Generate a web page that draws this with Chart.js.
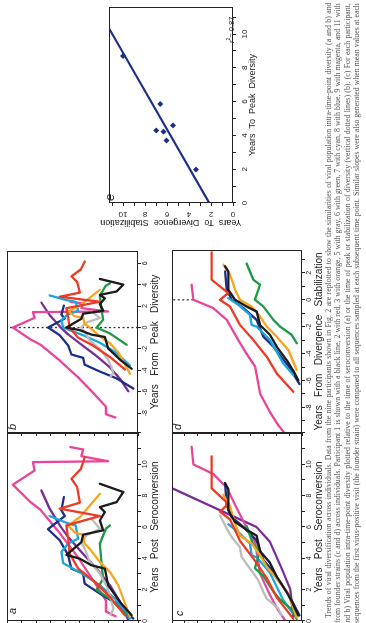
<!DOCTYPE html>
<html lang="en">
<head>
<meta charset="utf-8" />
<title>Trends of viral diversification</title>
<script src="https://cdn.jsdelivr.net/npm/chart.js@4.4.0/dist/chart.umd.min.js"></script>
<style>
  html, body { margin: 0; padding: 0; background: #fff; overflow: hidden; }
  body { width: 366px; height: 623px; position: relative; }
  /* the figure is laid out in landscape and turned a quarter to the left */
  #page { position: absolute; left: 0; top: 0; width: 623px; height: 366px; overflow: hidden;
          transform-origin: 0 0; transform: translateY(623px) rotate(-90deg);
          font-family: "Liberation Sans", Arial, sans-serif; color: #222; }
  #page canvas { position: absolute; }
  .lab { position: absolute; font-style: italic; font-size: 11px; line-height: 12px; color: #222; }
  .cap { position: absolute; font-family: "Liberation Serif", "Times New Roman", serif; font-size: 10px;
         line-height: 9px; color: #555; white-space: nowrap; }
</style>
</head>
<body>
<div id="page"></div>
<script>
// participants, in the order of the caption
const names = ['1', '2', '3', '5', '6', '7', '8', '9', '11'];
const lineColors = ['#1b1b1b', '#ec3a26', '#f7a51d', '#bdbdbd', '#1e9a47', '#1aa7df', '#1f2f86', '#e8459b', '#7b2d96'];

// a: diversity vs years post seroconversion  [years, diversity]
const divBlack   = [[0.37,0.44],[1.22,1.24],[2.28,2.05],[3.34,2.28],[3.56,3.2],[3.98,4.0],[4.22,4.92],[5.04,3.89],[5.51,3.77],[5.79,2.39],[6.42,2.62],[6.95,2.28],[7.27,2.62],[7.59,1.47],[8.23,1.01],[8.76,2.62]];
const divRed     = [[0.37,0.9],[1.54,1.93],[2.6,3.08],[3.34,4.11],[4.29,4.69],[5.25,4.8],[6.1,4.92],[6.7,2.62],[7.17,5.38],[7.55,4.0],[8.55,4.18],[9.08,4.57],[9.71,3.93],[10.46,3.66]];
const divOrange  = [[0.27,0.55],[2.28,1.36],[3.13,1.93],[3.77,2.62],[4.59,3.31],[4.94,3.66],[5.51,3.77],[5.64,4.34],[6.1,4.8],[6.63,4.0],[8.12,2.62]];
const divGray    = [[0.4,1.9],[0.75,1.7],[1.4,1.85],[2.1,2.1],[3.03,2.62],[3.77,3.31],[4.62,3.66],[5.0,3.9],[5.47,3.54],[5.89,2.62],[6.53,3.2]];
const divGreen   = [[0.37,0.78],[1.43,1.93],[1.98,2.85],[2.71,2.39],[3.77,2.51],[4.94,2.62],[5.89,2.21],[6.1,1.93]];
const divCyan    = [[0.16,0.55],[1.43,1.59],[2.28,2.62],[2.92,3.66],[3.7,5.15],[4.41,5.26],[4.94,4.8],[5.26,4.11],[6.1,4.28],[6.27,4.92],[6.7,6.07]];
const divBlue    = [[0.16,0.32],[1.11,1.47],[1.75,2.62],[2.39,3.66],[3.03,3.77],[3.34,4.57],[4.19,4.8],[5.15,5.38],[5.86,6.18],[6.7,5.03],[7.06,5.26],[7.91,5.1]];
const divMagenta = [[0.3,1.55],[0.6,2.2],[1.3,2.2],[2.55,3.05],[4.1,4.15],[5.7,5.45],[7.1,6.7],[7.6,7.4],[8.7,8.6],[9.61,7.1],[10.14,7.22],[10.2,2.05],[10.52,3.89],[10.95,3.77],[11.1,4.64]];
const divPurple  = [[0.05,0.67],[1.22,1.24],[2.28,1.93],[3.34,2.85],[4.41,3.89],[5.36,4.8],[6.0,5.3],[7.17,6.07],[8.33,6.64]];

// c: divergence from founder vs years post seroconversion  [years, divergence]
const fndBlack   = [[0.35,0.28],[1.1,0.7],[1.84,1.18],[2.84,1.95],[3.71,2.46],[4.45,3.23],[5.45,3.49],[5.82,4.26],[6.32,5.15],[7.07,5.67],[8.43,5.67],[8.81,5.92]];
const fndRed     = [[0.14,0.67],[1.51,1.95],[2.75,2.72],[3.99,3.74],[5.11,4.77],[6.48,5.54],[6.98,6.31],[7.48,5.67],[8.47,6.95],[10.51,6.95]];
const fndOrange  = [[0.23,0.41],[1.72,1.05],[2.71,1.95],[3.46,2.72],[4.21,3.23],[4.95,3.87],[5.45,4.77],[6.2,5.15],[7.32,5.54],[8.06,6.05]];
const fndGray    = [[0.37,1.56],[0.8,1.82],[1.43,2.72],[1.86,2.97],[2.6,3.36],[3.34,4.0],[4.09,4.64],[4.72,4.77],[5.36,5.41],[5.89,5.79],[6.74,6.31]];
const fndGreen   = [[0.13,0.41],[0.75,0.79],[1.37,1.69],[1.87,2.2],[2.86,2.97],[3.36,3.62],[4.48,3.23],[4.85,3.74],[6.05,4.26]];
const fndCyan    = [[0.46,0.67],[1.33,1.44],[3.07,2.46],[4.07,3.49],[4.19,3.87],[4.94,4.0],[5.69,4.9],[6.18,5.67]];
const fndBlue    = [[0.36,0.2],[1.53,0.92],[3.15,2.2],[3.89,2.97],[5.14,3.49],[6.01,4.51],[6.63,5.41],[7.38,5.79],[8.74,5.92]];
const fndMagenta = [[0.05,1.31],[0.67,1.82],[1.65,2.46],[3.03,3.23],[5.02,3.6],[6.2,4.4],[7.01,4.9],[8.51,5.79],[9.38,6.82],[10.0,8.36],[11.12,8.49]];
const fndPurple  = [[0.27,0.67],[2.07,0.92],[3.34,1.56],[5.04,2.46],[6.0,3.5],[8.44,9.9]];

// years to peak diversity (b, e) and to divergence stabilization (d, e); null = not determined
const peakYears = [4.22, 4.29, 4.59, 5.0, 1.98, 3.7, 5.86, 8.7, 6.0];
const stabYears = [6.32, 6.98, 5.45, null, 3.36, 6.06, 6.63, 10.0, null];

// e: regression line end points and its r²
const fitYears = [0, 10.3];
const fitStab = [2.15, 11.25];
const rSquared = '0.87';

// dotted reference lines (y extent, in axis units)
const peakLineY = [0, 9];
const stabLineY = [8.36, 10];

// tick positions and labels
const ticksSero = [0,1,2,3,4,5,6,7,8,9,10,11,12];
const labelsSero = [0,2,4,6,8,10];
const ticksPeak = [-8,-6,-4,-2,0,2,4,6];
const labelsPeak = [-8,-6,-4,-2,0,2,4,6];
const ticksStab = [-9,-8,-7,-6,-5,-4,-3,-2,-1,0,1,2,3];
const labelsStab = [-8,-6,-4,-2,0,2];
const ticksDiv = [0,1,2,3,4,5,6,7,8,9];
const ticksFnd = [0,1,2,3,4,5,6,7,8,9,10];
const ticksE = [0,1,2,3,4,5,6,7,8,9,10,11];
const labelsE = [0,2,4,6,8,10];

const diversityLines = [divBlack, divRed, divOrange, divGray, divGreen, divCyan, divBlue, divMagenta, divPurple];
const founderLines = [fndBlack, fndRed, fndOrange, fndGray, fndGreen, fndCyan, fndBlue, fndMagenta, fndPurple];

const page = document.getElementById('page');
const INK = '#222';

Chart.defaults.font.family = '"Liberation Sans", Arial, sans-serif';
Chart.defaults.color = INK;

// box around each plotting area
const framePlugin = {
	id: 'frame',
	afterDraw(chart) {
		const {ctx, chartArea: a} = chart;
		ctx.save();
		ctx.strokeStyle = INK;
		ctx.lineWidth = 1;
		ctx.strokeRect(Math.round(a.left) + 0.5, Math.round(a.top) + 0.5, Math.round(a.right - a.left) - 1, Math.round(a.bottom - a.top) - 1);
		ctx.restore();
	}
};

function addCanvas(box, pad) {
	const c = document.createElement('canvas');
	const w = box.r - box.l + pad.l + pad.r;
	const h = box.b - box.t + pad.t + pad.b;
	c.width = w;
	c.height = h;
	c.style.left = (box.l - pad.l) + 'px';
	c.style.top = (box.t - pad.t) + 'px';
	c.style.width = w + 'px';
	c.style.height = h + 'px';
	page.appendChild(c);
	return c.getContext('2d');
}

function addText(cls, html, left, top) {
	const s = document.createElement('div');
	s.className = cls;
	s.innerHTML = html;
	s.style.left = left + 'px';
	s.style.top = top + 'px';
	page.appendChild(s);
	return s;
}

function lineSets(lines, shifts) {
	const sets = [];
	lines.forEach((pts, i) => {
		const s = shifts ? shifts[i] : 0;
		if (s === null) return;
		sets.push({
			data: pts.map(p => ({x: p[0] - s, y: p[1]})),
			borderColor: lineColors[i],
			borderWidth: 2.3,
			pointRadius: 0,
			fill: false,
			tension: 0,
			borderJoinStyle: 'round',
			borderCapStyle: 'round'
		});
	});
	return sets;
}

function dottedSet(yExt) {
	return {
		data: [{x: 0, y: yExt[0]}, {x: 0, y: yExt[1]}],
		borderColor: '#333',
		borderWidth: 1.3,
		borderDash: [2, 2.5],
		pointRadius: 0,
		fill: false
	};
}

function axis(o) {
	return {
		type: 'linear',
		position: o.position,
		min: o.min,
		max: o.max,
		afterBuildTicks: s => { s.ticks = o.ticks.map(v => ({value: v})); },
		afterFit: s => { if (o.position === 'bottom') s.height = o.size; else s.width = o.size; },
		grid: { display: true, drawOnChartArea: false, drawTicks: true, tickLength: 3, color: INK, lineWidth: 1 },
		border: { display: false },
		ticks: {
			display: !!o.labels,
			autoSkip: false,
			font: { size: o.tickFont || 7 },
			color: INK,
			padding: o.tickPad || 0,
			minRotation: o.rot || 0,
			maxRotation: o.rot || 0,
			crossAlign: o.rot ? 'center' : 'near',
			callback: v => (o.labels && o.labels.includes(v)) ? String(v) : ''
		},
		title: { display: !!o.title, text: o.title || '', font: { size: o.titleFont || 10 }, color: INK, padding: 0 }
	};
}

function panel(box, pad, datasets, xo, yo) {
	const ctx = addCanvas(box, pad);
	xo.position = 'bottom'; xo.size = pad.b;
	yo.position = 'left'; yo.size = pad.l;
	return new Chart(ctx, {
		type: 'line',
		data: { datasets },
		options: {
			responsive: false,
			animation: false,
			devicePixelRatio: 1,
			layout: { padding: { left: 0, top: pad.t, right: pad.r, bottom: 0 } },
			plugins: { legend: { display: false }, tooltip: { enabled: false } },
			scales: { x: axis(xo), y: axis(yo) }
		},
		plugins: [framePlugin]
	});
}

// a
panel({l: 2, t: 7, r: 190, b: 138}, {l: 10, t: 2, r: 2, b: 23},
	lineSets(diversityLines),
	{min: 0, max: 12, ticks: ticksSero, labels: labelsSero, title: 'Years   Post   Seroconversion'},
	{min: 0, max: 9, ticks: ticksDiv});

// b
panel({l: 190, t: 7, r: 372, b: 138}, {l: 6, t: 2, r: 2, b: 23},
	lineSets(diversityLines, peakYears).concat([dottedSet(peakLineY)]),
	{min: -9.85, max: 7.15, ticks: ticksPeak, labels: labelsPeak, title: 'Years   From   Peak   Diversity'},
	{min: 0, max: 9, ticks: ticksDiv});

// c
panel({l: 2, t: 172, r: 190, b: 302}, {l: 10, t: 2, r: 2, b: 23},
	lineSets(founderLines),
	{min: 0, max: 12, ticks: ticksSero, labels: labelsSero, title: 'Years   Post   Seroconversion'},
	{min: 0, max: 10, ticks: ticksFnd});

// d
panel({l: 190, t: 172, r: 373, b: 302}, {l: 6, t: 2, r: 2, b: 23},
	lineSets(founderLines, stabYears).concat([dottedSet(stabLineY)]),
	{min: -9.9, max: 3.7, ticks: ticksStab, labels: labelsStab, title: 'Years   From   Divergence   Stabilization'},
	{min: 0, max: 10, ticks: ticksFnd});

// e
const ePoints = [];
peakYears.forEach((p, i) => { if (stabYears[i] !== null) ePoints.push({x: p, y: stabYears[i]}); });
const NAVY = '#1c2f86';
panel({l: 420, t: 102, r: 616, b: 233}, {l: 25, t: 2, r: 4, b: 25},
	[
		{ data: ePoints, showLine: false, pointStyle: 'rectRot', pointRadius: 3, backgroundColor: NAVY, borderColor: NAVY, borderWidth: 0 },
		{ data: fitYears.map((x, i) => ({x, y: fitStab[i]})), borderColor: NAVY, borderWidth: 2.2, pointRadius: 0, fill: false }
	],
	{min: 0, max: 11.6, ticks: ticksE, labels: labelsE, tickFont: 8, tickPad: 3.5, title: 'Years  To  Peak  Diversity', titleFont: 9},
	{min: 0, max: 11.3, ticks: ticksE, labels: labelsE, tickFont: 8, tickPad: 4, rot: 90, title: 'Years  To  Divergence  Stabilization', titleFont: 9});

// panel letters and r²
addText('lab', 'a', 9, 6);
addText('lab', 'b', 193, 6);
addText('lab', 'c', 7, 173);
addText('lab', 'd', 193, 171);
addText('lab', 'e', 422, 104).style.fontSize = '13px';
const r2 = addText('lab', '<i>r</i><sup style="font-size:5px">2</sup>= ' + rSquared, 580, 222);
r2.style.fontStyle = 'normal';
r2.style.fontSize = '7.5px';

// caption: each printed line is sized to run the full width
const captionLines = [
	'Trends of viral diversification across individuals. Data from the nine participants shown in Fig. 2 are replotted to show the similarities of viral population intra-time-point diversity (a and b) and',
	'from founder strains (c and d) across individuals. Participant 1 is shown with a black line, 2 with red, 3 with orange, 5 with gray, 6 with green, 7 with cyan, 8 with blue, 9 with magenta, and 11 with',
	'and b) Viral population intra-time-point diversity plotted relative to the time of seroconversion (a) or the time of peak or stabilization of diversity (vertical dotted lines) (b). (c) For each participant,',
	'sequences from the first virus-positive visit (the founder strain) were compared to all sequences sampled at each subsequent time point. Similar slopes were also generated when mean values at each'
];
const capStart = [5, 0, -3, 0];
captionLines.forEach((t, i) => {
	const d = addText('cap', t, capStart[i], 324 + i * 9.3);
	const want = 620 - capStart[i];
	const size = Math.min(7.8, 10 * want / d.offsetWidth);
	d.style.fontSize = size.toFixed(2) + 'px';
	const extra = want - d.offsetWidth;
	const gaps = t.split(' ').length - 1;
	if (extra > 0 && gaps > 0) d.style.wordSpacing = (extra / gaps).toFixed(3) + 'px';
});
</script>
</body>
</html>
